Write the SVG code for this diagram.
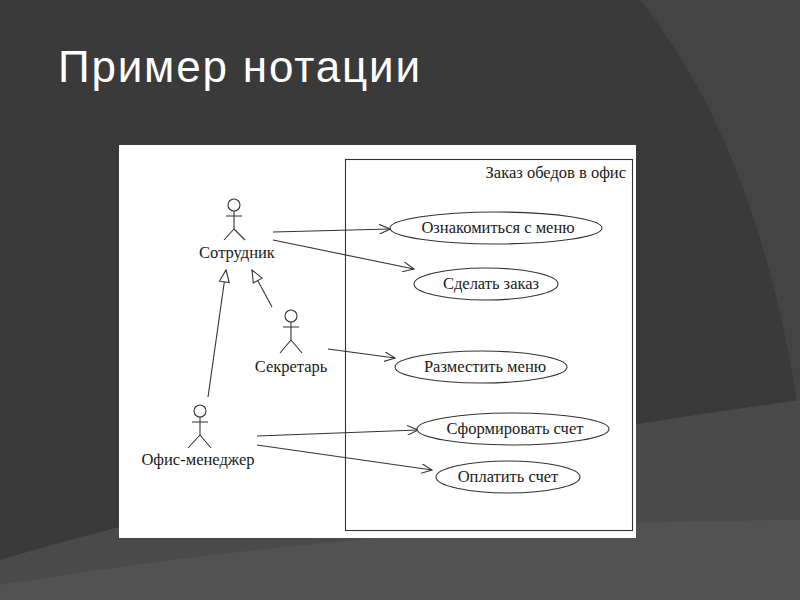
<svg xmlns="http://www.w3.org/2000/svg" width="800" height="600" viewBox="0 0 800 600">
<defs>
<style>
.t{font-family:"Liberation Serif",serif;font-size:16.5px;fill:#1a1a1a}
.l{stroke:#333;stroke-width:1.1;fill:none}
.a{stroke:#333;stroke-width:1.1;fill:none;marker-end:url(#open)}
.g{stroke:#333;stroke-width:1.1;fill:none;marker-end:url(#tri)}
.e{fill:#fff;stroke:#333;stroke-width:1.1}
</style>
<marker id="open" viewBox="0 0 12 10" refX="11" refY="5" markerWidth="12" markerHeight="10" markerUnits="userSpaceOnUse" orient="auto"><path d="M0,0 L11,5 L0,10" fill="none" stroke="#333" stroke-width="1.1"/></marker>
<marker id="tri" viewBox="0 0 14 12" refX="13" refY="6" markerWidth="14" markerHeight="12" markerUnits="userSpaceOnUse" orient="auto"><path d="M1,1 L13,6 L1,11 Z" fill="#fff" stroke="#333" stroke-width="1.1"/></marker>
</defs>
<rect width="800" height="600" fill="#3a3a3a"/>
<path d="M640,0 Q760,150 800,420 L800,0 Z" fill="#444"/>
<path d="M0,600 L0,560 Q300,470 800,400 L800,600 Z" fill="#4a4a4a"/>
<path d="M0,600 L0,585 Q400,520 800,520 L800,600 Z" fill="#525252"/>
<text x="58" y="82" font-family="Liberation Sans,Arial,sans-serif" font-size="44" fill="#fff" textLength="362">Пример нотации</text>
<rect x="119" y="145" width="517" height="393" fill="#fff"/>
<g id="system"><rect x="345.5" y="159.5" width="287" height="371" class="l"/><text x="626" y="178" text-anchor="end" class="t">Заказ обедов в офис</text></g>
<g id="connectors">
<path class="a" d="M273,232 L390,229"/>
<path class="a" d="M273,240 L414,269"/>
<path class="a" d="M328,349 L395,358"/>
<path class="a" d="M257,436 L418,430"/>
<path class="a" d="M257,445 L432,470"/>
<path class="g" d="M208,397 L226,270"/>
<path class="g" d="M272,307 L252,270"/>
</g>
<g id="sotrudnik"><circle cx="234" cy="205" r="6" class="l"/><path class="l" d="M234,211 V229 M226,216 H242 M234,229 L224,240 M234,229 L245,240"/><text x="237" y="258" text-anchor="middle" class="t">Сотрудник</text></g>
<g id="sekretar"><circle cx="291" cy="316" r="6" class="l"/><path class="l" d="M291,322 V340 M283,327 H299 M291,340 L280,353 M291,340 L302,353"/><text x="291" y="372" text-anchor="middle" class="t">Секретарь</text></g>
<g id="ofis"><circle cx="200" cy="411" r="6" class="l"/><path class="l" d="M200,417 V435 M192,422 H208 M200,435 L188,448 M200,435 L211,448"/><text x="198" y="465" text-anchor="middle" class="t">Офис-менеджер</text></g>
<g id="uc1"><ellipse cx="496" cy="228" rx="106" ry="16" class="e"/><text x="498" y="233" text-anchor="middle" class="t">Ознакомиться с меню</text></g>
<g id="uc2"><ellipse cx="486" cy="284" rx="72" ry="16" class="e"/><text x="491" y="289" text-anchor="middle" class="t">Сделать заказ</text></g>
<g id="uc3"><ellipse cx="481" cy="367" rx="86" ry="16" class="e"/><text x="485" y="372" text-anchor="middle" class="t">Разместить меню</text></g>
<g id="uc4"><ellipse cx="513" cy="429" rx="96" ry="16" class="e"/><text x="515" y="434" text-anchor="middle" class="t">Сформировать счет</text></g>
<g id="uc5"><ellipse cx="508" cy="477" rx="72" ry="16" class="e"/><text x="508" y="482" text-anchor="middle" class="t">Оплатить счет</text></g>
</svg>
